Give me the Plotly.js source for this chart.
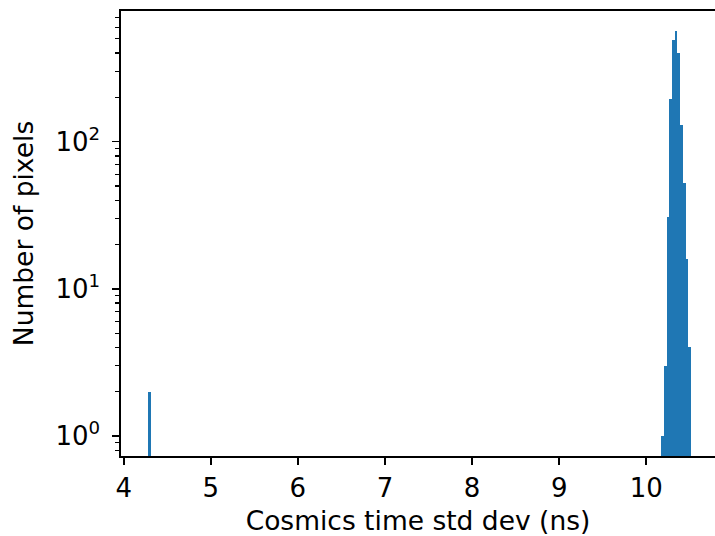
<!DOCTYPE html>
<html>
<head>
<meta charset="utf-8">
<script src="https://cdn.plot.ly/plotly-3.0.1.min.js"></script>
<style>
  html, body { margin: 0; padding: 0; overflow: hidden; background: #ffffff; }
  #chart { width: 715px; height: 536px; }
</style>
</head>
<body>
<div id="chart"></div>
<script>
// Histogram bin centers (ns) and counts
const binCenters = [4.2956, 10.1858, 10.2170, 10.2481, 10.2793, 10.3105, 10.3416, 10.3728, 10.4040, 10.4351, 10.4663, 10.4975];
const counts     = [2, 1, 3, 31, 194, 488, 562, 399, 129, 52, 16, 4];
const binWidth = 0.031165;

const xTickVals = [4, 5, 6, 7, 8, 9, 10];
const xTickText = ['4', '5', '6', '7', '8', '9', '10'];
const yTickVals = [1, 10, 100];
const yTickText = ['10<sup>0</sup>', '10<sup>1</sup>', '10<sup>2</sup>'];
const yMinorVals = [0.8, 0.9, 2, 3, 4, 5, 6, 7, 8, 9, 20, 30, 40, 50, 60, 70, 80, 90, 200, 300, 400, 500, 600, 700];

const tickFont = { family: 'DejaVu Sans', size: 26, color: '#000000' };
const titleFont = { family: 'DejaVu Sans', size: 26.5, color: '#000000' };

const trace = {
  type: 'bar',
  x: binCenters,
  y: counts,
  width: binCenters.map(() => binWidth),
  marker: { color: '#1f77b4', line: { width: 0 } },
  hoverinfo: 'x+y'
};

const layout = {
  width: 715,
  height: 536,
  margin: { l: 121, r: 0, t: 11, b: 80, pad: 0 },
  paper_bgcolor: '#ffffff',
  plot_bgcolor: '#ffffff',
  showlegend: false,
  bargap: 0,
  font: tickFont,
  xaxis: {
    range: [3.969, 10.789],
    tickmode: 'array',
    tickvals: xTickVals,
    ticktext: xTickText,
    ticks: 'outside',
    ticklen: 7,
    tickwidth: 1.6,
    tickcolor: '#000000',
    showline: true,
    linecolor: '#000000',
    linewidth: 1.6,
    mirror: true,
    showgrid: false,
    zeroline: false,
    tickfont: tickFont,
    ticklabelstandoff: 1,
    title: { text: 'Cosmics time std dev (ns)', font: titleFont, standoff: 12 }
  },
  yaxis: {
    type: 'log',
    range: [-0.136, 2.888],
    tickmode: 'array',
    tickvals: yTickVals,
    ticktext: yTickText,
    ticks: 'outside',
    ticklen: 7,
    tickwidth: 1.6,
    tickcolor: '#000000',
    showline: true,
    linecolor: '#000000',
    linewidth: 1.6,
    mirror: false,
    showgrid: false,
    zeroline: false,
    tickfont: tickFont,
    ticklabelstandoff: 7,
    minor: {
      tickmode: 'array',
      tickvals: yMinorVals,
      ticks: 'outside',
      ticklen: 4,
      tickwidth: 1.2,
      tickcolor: '#000000',
      showgrid: false
    },
    title: { text: 'Number of pixels', font: titleFont, standoff: 14 }
  }
};

Plotly.newPlot('chart', [trace], layout, { displayModeBar: false, staticPlot: true });
</script>
</body>
</html>
